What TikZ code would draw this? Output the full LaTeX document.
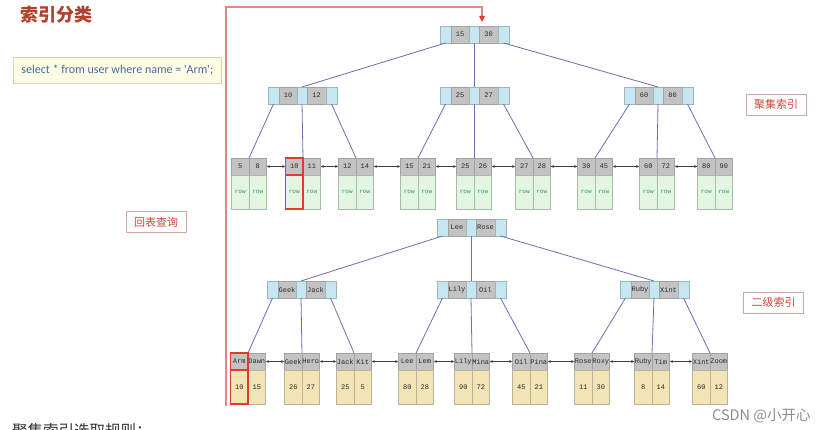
\documentclass[tikz,border=0pt]{standalone}
\usepackage{fontspec}
\usetikzlibrary{arrows.meta}
\newfontfamily\cjk{Noto Sans CJK SC}
\newfontfamily\mono{Liberation Mono}
\newfontfamily\qfont{Carlito}
\definecolor{bluefill}{HTML}{C6E6F0}
\definecolor{blueline}{HTML}{98B6C4}
\definecolor{grayfill}{HTML}{C3C3C3}
\definecolor{grayline}{HTML}{A2A2A2}
\definecolor{greenfill}{HTML}{E3F6E3}
\definecolor{greenline}{HTML}{A9BBA9}
\definecolor{yellowfill}{HTML}{F2E4B4}
\definecolor{yellowline}{HTML}{B9B29C}
\definecolor{edgecol}{HTML}{6E6EB0}
\definecolor{rowtext}{HTML}{2E9A5A}
\definecolor{celltext}{HTML}{2A2A2A}
\definecolor{titlecol}{HTML}{B3402C}
\definecolor{labtext}{HTML}{D4443A}
\definecolor{labline}{HTML}{D6A6A6}
\definecolor{qfill}{HTML}{FDFDE6}
\definecolor{qline}{HTML}{D4D4AE}
\definecolor{qtext}{HTML}{4A6A9C}
\definecolor{redline}{HTML}{E88484}
\definecolor{redbox}{HTML}{E23A2E}
\tikzset{
  cellbase/.style={draw, inner sep=0pt, outer sep=0pt, anchor=north west, line width=0.5pt,
    font=\mono\fontsize{7}{7}\selectfont, text=celltext},
  bcell/.style={cellbase, fill=bluefill, draw=blueline, minimum height=17pt},
  gcell/.style={cellbase, fill=grayfill, draw=grayline, minimum height=17pt},
  lcell/.style={cellbase, fill=grayfill, draw=grayline, minimum height=17pt, minimum width=17.5pt},
  rowcell/.style={cellbase, fill=greenfill, draw=greenline, minimum height=34pt, minimum width=17.5pt,
    font=\mono\fontsize{6}{6}\selectfont, text=rowtext},
  valcell/.style={cellbase, fill=yellowfill, draw=yellowline, minimum height=34pt, minimum width=17.5pt},
  edge/.style={draw=edgecol, line width=0.8pt},
  link/.style={draw=black!75, line width=0.5pt, {Latex[length=3.2pt,width=2.8pt]}-{Latex[length=3.2pt,width=2.8pt]}},
  redrect/.style={draw=redbox, line width=1.2pt},
  lab/.style={draw=labline, line width=0.8pt, fill=white, inner sep=0pt, minimum width=60pt, minimum height=21pt,
    font=\cjk\fontsize{11}{11}\selectfont, text=labtext},
}
% internal node: name, left, top, key a, key b
\newcommand\inode[5]{%
  \node[bcell, minimum width=11pt] (#1-b1) at (#2,#3) {};
  \node[gcell, minimum width=18pt] (#1-g1) at (#1-b1.north east) {#4};
  \node[bcell, minimum width=10pt] (#1-b2) at (#1-g1.north east) {};
  \node[gcell, minimum width=19pt] (#1-g2) at (#1-b2.north east) {#5};
  \node[bcell, minimum width=11pt] (#1-b3) at (#1-g2.north east) {};
}
% leaf: name, left, top, key a, key b, lower style, lower a, lower b
\newcommand\leafnode[8]{%
  \node[lcell] (#1-a) at (#2,#3) {#4};
  \node[lcell] (#1-b) at (#1-a.north east) {#5};
  \node[#6] (#1-c) at (#1-a.south west) {#7};
  \node[#6] (#1-d) at (#1-b.south west) {#8};
}
\begin{document}
\begin{tikzpicture}[x=1pt,y=-1pt]
\useasboundingbox[fill=white] (0,0) rectangle (827,430);

% title and query
\node[anchor=north west, inner sep=0pt, font=\cjk\bfseries\fontsize{18}{18}\selectfont, text=titlecol] (title) at (20,6) {索引分类};
\node[draw=qline, fill=qfill, line width=0.6pt, minimum width=208pt, minimum height=26pt, inner sep=0pt,
  anchor=west, font=\qfont\fontsize{12}{12}\selectfont, text=qtext] (query) at (13,70) {select * from user where name = 'Arm';};

% ---------- clustered index ----------
\inode{croot}{440}{26}{15}{30}
\inode{cl}{268}{87}{10}{12}
\inode{cm}{440}{87}{25}{27}
\inode{cr}{624}{87}{60}{80}

\leafnode{c1}{231.5}{158}{5}{8}{rowcell}{row}{row}
\leafnode{c2}{285.5}{158}{10}{11}{rowcell}{row}{row}
\leafnode{c3}{338.5}{158}{12}{14}{rowcell}{row}{row}
\leafnode{c4}{400.5}{158}{15}{21}{rowcell}{row}{row}
\leafnode{c5}{456.5}{158}{25}{26}{rowcell}{row}{row}
\leafnode{c6}{515.5}{158}{27}{28}{rowcell}{row}{row}
\leafnode{c7}{577.5}{158}{30}{45}{rowcell}{row}{row}
\leafnode{c8}{639.5}{158}{60}{72}{rowcell}{row}{row}
\leafnode{c9}{697.5}{158}{80}{90}{rowcell}{row}{row}

\draw[edge] (croot-b1.south) -- (cl-b2.north);
\draw[edge] (croot-b2.south) -- (cm-b2.north);
\draw[edge] (croot-b3.south) -- (cr-b2.north);
\draw[edge] (cl-b1.south) -- (c1-a.north east);
\draw[edge] (cl-b2.south) -- (c2-a.north east);
\draw[edge] (cl-b3.south) -- (c3-a.north east);
\draw[edge] (cm-b1.south) -- (c4-a.north east);
\draw[edge] (cm-b2.south) -- (c5-a.north east);
\draw[edge] (cm-b3.south) -- (c6-a.north east);
\draw[edge] (cr-b1.south) -- (c7-a.north east);
\draw[edge] (cr-b2.south) -- (c8-a.north east);
\draw[edge] (cr-b3.south) -- (c9-a.north east);

\foreach \i [evaluate=\i as \j using int(\i+1)] in {1,...,8}{
  \draw[link] (c\i-b.east) -- (c\j-a.west);
}
\draw[redrect] (c2-a.north west) rectangle (c2-a.south east);
\draw[redrect] (c2-c.north west) rectangle (c2-c.south east);

% ---------- secondary index ----------
\inode{sroot}{437}{219}{Lee}{Rose}
\inode{sl}{267}{281}{Geek}{Jack}
\inode{sm}{437}{281}{Lily}{Oil}
\inode{sr}{620}{281}{Ruby}{Xint}

\leafnode{s1}{230.5}{353}{Arm}{Dawn}{valcell}{10}{15}
\leafnode{s2}{284.5}{353}{Geek}{Hero}{valcell}{26}{27}
\leafnode{s3}{336.5}{353}{Jack}{Kit}{valcell}{25}{5}
\leafnode{s4}{398.5}{353}{Lee}{Lem}{valcell}{80}{28}
\leafnode{s5}{454.5}{353}{Lily}{Mina}{valcell}{90}{72}
\leafnode{s6}{512.5}{353}{Oil}{Pina}{valcell}{45}{21}
\leafnode{s7}{574.5}{353}{Rose}{Roxy}{valcell}{11}{30}
\leafnode{s8}{634.5}{353}{Ruby}{Tim}{valcell}{8}{14}
\leafnode{s9}{692.5}{353}{Xint}{Zoom}{valcell}{60}{12}

\draw[edge] (sroot-b1.south) -- (sl-b2.north);
\draw[edge] (sroot-b2.south) -- (sm-b2.north);
\draw[edge] (sroot-b3.south) -- (sr-b2.north);
\draw[edge] (sl-b1.south) -- (s1-a.north east);
\draw[edge] (sl-b2.south) -- (s2-a.north east);
\draw[edge] (sl-b3.south) -- (s3-a.north east);
\draw[edge] (sm-b1.south) -- (s4-a.north east);
\draw[edge] (sm-b2.south) -- (s5-a.north east);
\draw[edge] (sm-b3.south) -- (s6-a.north east);
\draw[edge] (sr-b1.south) -- (s7-a.north east);
\draw[edge] (sr-b2.south) -- (s8-a.north east);
\draw[edge] (sr-b3.south) -- (s9-a.north east);

\foreach \i [evaluate=\i as \j using int(\i+1)] in {1,...,8}{
  \draw[link] (s\i-b.east) -- (s\j-a.west);
}
\draw[redrect] (s1-a.north west) rectangle (s1-a.south east);
\draw[redrect] (s1-c.north west) rectangle (s1-c.south east);

% ---------- labels ----------
\node[lab] (lclus) at (776,104.5) {聚集索引};
\node[lab] (lsec) at (773.5,302.5) {二级索引};
\node[lab] (lback) at (156,222) {回表查询};

% ---------- back-to-table path ----------
\coordinate (rstart) at (226,406);
\coordinate (rtop) at (482,7);
\coordinate (rend) at (482,22);
\draw[draw=redline, line width=1.3pt, -{Triangle[length=6pt,width=5.5pt,color=redbox]}] (rstart) |- (rtop) -- (rend);

% ---------- bottom texts ----------
\node[anchor=base west, inner sep=0pt, font=\cjk\fontsize{15.5}{15.5}\selectfont, text=black!80] (rule) at (12,436) {聚集索引选取规则：};
\node[anchor=base west, inner sep=0pt, font=\cjk\fontsize{14.5}{14.5}\selectfont, text=black!45] (mark) at (712,420) {CSDN @小开心};
\end{tikzpicture}
\end{document}
